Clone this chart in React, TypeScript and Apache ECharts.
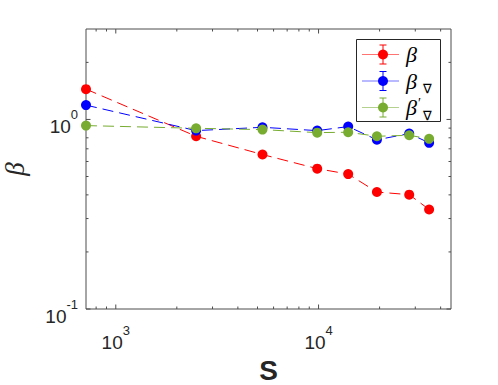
import React, { useEffect, useRef } from 'react';
import * as echarts from 'echarts';

// ---- data ----
const sizes = [713, 2490, 5290, 9850, 14000, 19400, 28000, 35100];
const betaValues = [1.445, 0.815, 0.653, 0.55, 0.515, 0.414, 0.401, 0.335];
const betaNablaValues = [1.19, 0.873, 0.909, 0.873, 0.917, 0.781, 0.842, 0.753];
const betaNablaPrimeValues = [0.928, 0.898, 0.884, 0.852, 0.856, 0.815, 0.825, 0.79];

const xMajorTicks = [1000, 10000];
const xMinorTicks = [800, 900, 2000, 3000, 4000, 5000, 6000, 7000, 8000, 9000, 20000, 30000, 40000];
const yMajorTicks = [0.1, 1];
const yMinorTicks = [0.2, 0.3, 0.4, 0.5, 0.6, 0.7, 0.8, 0.9, 2];

const legendNames = ['β', 'β', 'β'];
const legendPrimes = ['', '', '′'];
const legendSubs = ['', '∇', '∇'];

const X_MIN = 713;
const X_MAX = 45000;
const Y_MIN = 0.1;
const Y_MAX = 3;

const RED = '#ff0000';
const BLUE = '#0000ff';
const GREEN = '#77ac30';
const COLORS = [RED, BLUE, GREEN];
const AXIS_COLOR = '#4d4d4d';
const TEXT_COLOR = '#262626';
const SANS = '"Liberation Sans", Arial, Helvetica, sans-serif';
const SERIF = '"Liberation Serif", "DejaVu Serif", serif';

const powLabel = (v: number) => {
  const e = Math.log10(v);
  const r = Math.round(e);
  if (Math.abs(e - r) > 1e-6) return '';
  return `{b|10}{s|${r}}`;
};

const labelRich = {
  b: { fontSize: 19, lineHeight: 28, fontFamily: SANS, color: TEXT_COLOR, verticalAlign: 'bottom' },
  s: { fontSize: 13, lineHeight: 11, fontFamily: SANS, color: TEXT_COLOR, verticalAlign: 'top' },
};

const tickSeries = (values: number[], axis: 'x' | 'y', len: number) => ({
  type: 'custom',
  silent: true,
  clip: false,
  z: 5,
  data: values.map((v) => (axis === 'x' ? [v, Y_MIN] : [X_MIN, v])),
  encode: { x: 0, y: 1 },
  renderItem: (_params: any, api: any) => {
    const style = { stroke: AXIS_COLOR, lineWidth: 1 };
    if (axis === 'x') {
      const v = api.value(0);
      const b = api.coord([v, Y_MIN]);
      const t = api.coord([v, Y_MAX]);
      return {
        type: 'group',
        children: [
          { type: 'line', shape: { x1: b[0], y1: b[1], x2: b[0], y2: b[1] - len }, style },
          { type: 'line', shape: { x1: t[0], y1: t[1], x2: t[0], y2: t[1] + len }, style },
        ],
      };
    }
    const v = api.value(1);
    const l = api.coord([X_MIN, v]);
    const r = api.coord([X_MAX, v]);
    return {
      type: 'group',
      children: [
        { type: 'line', shape: { x1: l[0], y1: l[1], x2: l[0] + len, y2: l[1] }, style },
        { type: 'line', shape: { x1: r[0], y1: r[1], x2: r[0] - len, y2: r[1] }, style },
      ],
    };
  },
});

const lineSeries = (name: string, values: number[], color: string, z: number) => ({
  type: 'line',
  name,
  data: sizes.map((s, i) => [s, values[i]]),
  symbol: 'circle',
  symbolSize: 10,
  clip: false,
  z,
  lineStyle: { color, width: 1, type: [11, 6] },
  itemStyle: { color },
});

const ROW_Y = [54.5, 81, 107.5];

const legendGraphics = () => {
  const els: any[] = [
    {
      type: 'rect',
      shape: { x: 356.5, y: 39.5, width: 84, height: 82 },
      style: { fill: '#ffffff', stroke: TEXT_COLOR, lineWidth: 1 },
      z: 10,
    },
  ];
  ROW_Y.forEach((y, i) => {
    const color = COLORS[i];
    const cx = 383;
    els.push(
      { type: 'line', shape: { x1: 362, y1: y, x2: 399, y2: y }, style: { stroke: color, lineWidth: 1, opacity: 0.55 }, z: 11 },
      { type: 'line', shape: { x1: cx, y1: y - 9.5, x2: cx, y2: y + 9.5 }, style: { stroke: color, lineWidth: 1 }, z: 11 },
      { type: 'line', shape: { x1: cx - 3.5, y1: y - 9.5, x2: cx + 3.5, y2: y - 9.5 }, style: { stroke: color, lineWidth: 1 }, z: 11 },
      { type: 'line', shape: { x1: cx - 3.5, y1: y + 9.5, x2: cx + 3.5, y2: y + 9.5 }, style: { stroke: color, lineWidth: 1 }, z: 11 },
      { type: 'circle', shape: { cx, cy: y, r: 5 }, style: { fill: color }, z: 12 },
      {
        type: 'text',
        x: 406,
        y,
        z: 12,
        style: {
          text: legendNames[i],
          verticalAlign: 'middle',
          align: 'left',
          fontSize: 22,
          lineHeight: 22,
          fontStyle: 'italic',
          fontFamily: SERIF,
          fill: '#000',
        },
      },
    );
    if (legendPrimes[i]) {
      els.push({
        type: 'text',
        x: 418,
        y: y - 4,
        z: 12,
        style: { text: legendPrimes[i], verticalAlign: 'middle', align: 'left', fontSize: 14, lineHeight: 9, fontFamily: SERIF, fill: '#000' },
      });
    }
    if (legendSubs[i]) {
      els.push({
        type: 'text',
        x: 423,
        y: y + 7.5,
        z: 12,
        style: { text: legendSubs[i], verticalAlign: 'middle', align: 'left', fontSize: 13, lineHeight: 11, fontFamily: '"DejaVu Sans", sans-serif', fill: '#000' },
      });
    }
  });
  return els;
};

export default function App() {
  const ref = useRef<HTMLDivElement>(null);
  useEffect(() => {
    if (!ref.current) return;
    const chart = echarts.init(ref.current, undefined, { renderer: 'svg' });
    chart.setOption({
      animation: false,
      backgroundColor: '#ffffff',
      grid: {
        left: 86,
        right: 47,
        top: 29,
        bottom: 76,
        show: true,
        borderColor: AXIS_COLOR,
        borderWidth: 1,
        backgroundColor: 'transparent',
        containLabel: false,
        outerBoundsMode: 'none',
      },
      xAxis: {
        type: 'log',
        logBase: 10,
        min: X_MIN,
        max: X_MAX,
        axisLine: { show: false },
        axisTick: { show: false },
        minorTick: { show: false },
        splitLine: { show: false },
        axisLabel: { formatter: powLabel, margin: 15, rich: labelRich },
        name: 'S',
        nameLocation: 'middle',
        nameGap: 47,
        nameTextStyle: { fontSize: 28, fontWeight: 'bold', fontFamily: SANS, color: TEXT_COLOR },
      },
      yAxis: {
        type: 'log',
        logBase: 10,
        min: Y_MIN,
        max: Y_MAX,
        axisLine: { show: false },
        axisTick: { show: false },
        minorTick: { show: false },
        splitLine: { show: false },
        axisLabel: { formatter: powLabel, margin: 8, rich: labelRich, padding: [6, 0, 0, 0] },
        name: 'β',
        nameLocation: 'middle',
        nameRotate: 90,
        nameGap: 58,
        nameTextStyle: { fontSize: 27, fontStyle: 'italic', fontFamily: SERIF, color: TEXT_COLOR, lineHeight: 27 },
      },
      series: [
        tickSeries(xMajorTicks, 'x', 4.5),
        tickSeries(xMinorTicks, 'x', 2.5),
        tickSeries(yMajorTicks, 'y', 4.5),
        tickSeries(yMinorTicks, 'y', 2.5),
        lineSeries('β', betaValues, RED, 3),
        lineSeries('β∇', betaNablaValues, BLUE, 4),
        lineSeries('β′∇', betaNablaPrimeValues, GREEN, 5),
      ],
      graphic: legendGraphics(),
    });
    return () => chart.dispose();
  }, []);
  return <div ref={ref} style={{ position: 'fixed', left: 0, top: 0, width: 498, height: 385 }} />;
}
